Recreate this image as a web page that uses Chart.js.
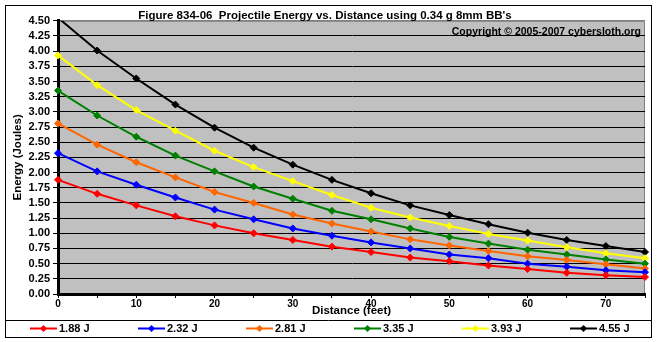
<!DOCTYPE html>
<html>
<head>
<meta charset="utf-8">
<title>Projectile Energy vs. Distance</title>
<script src="https://cdn.jsdelivr.net/npm/chart.js@4"></script>
<style>
  body { margin: 0; background: #fff; }
</style>
</head>
<body>
<canvas id="energyChart" width="658" height="342"></canvas>
<script>
// distance in feet, energy in joules
var distances = [0, 5, 10, 15, 20, 25, 30, 35, 40, 45, 50, 55, 60, 65, 70, 75];
var seriesLabels = ["1.88 J", "2.32 J", "2.81 J", "3.35 J", "3.93 J", "4.55 J"];
var seriesColors = ["#ff0000", "#0000ff", "#ff6600", "#008000", "#ffff00", "#000000"];

var energy188 = [1.88, 1.65, 1.46, 1.28, 1.13, 1.00, 0.89, 0.78, 0.69, 0.60, 0.54, 0.47, 0.41, 0.35, 0.31, 0.28];
var energy232 = [2.32, 2.02, 1.80, 1.59, 1.39, 1.23, 1.08, 0.96, 0.85, 0.75, 0.65, 0.59, 0.50, 0.45, 0.39, 0.36];
var energy281 = [2.81, 2.46, 2.17, 1.92, 1.68, 1.50, 1.31, 1.16, 1.03, 0.90, 0.80, 0.71, 0.62, 0.56, 0.49, 0.42];
var energy335 = [3.35, 2.94, 2.59, 2.28, 2.02, 1.77, 1.57, 1.37, 1.23, 1.08, 0.94, 0.83, 0.73, 0.65, 0.57, 0.50];
var energy393 = [3.93, 3.44, 3.03, 2.69, 2.36, 2.09, 1.86, 1.63, 1.42, 1.26, 1.12, 0.99, 0.88, 0.77, 0.67, 0.59];
var energy455 = [4.55, 4.01, 3.55, 3.12, 2.74, 2.41, 2.13, 1.88, 1.66, 1.46, 1.30, 1.15, 1.01, 0.89, 0.79, 0.69];

var allSeries = [energy188, energy232, energy281, energy335, energy393, energy455];

var yMin = 0;
var yMax = 4.5;
var yStep = 0.25;
var xMin = 0;
var xMax = 75;
var xStep = 5;

var FONT = "'Liberation Sans', Arial, sans-serif";

var datasets = [];
for (var i = 0; i < allSeries.length; i++) {
  var pts = [];
  for (var j = 0; j < distances.length; j++) {
    pts.push({ x: distances[j], y: allSeries[i][j] });
  }
  datasets.push({
    label: seriesLabels[i],
    data: pts,
    borderColor: seriesColors[i],
    backgroundColor: seriesColors[i],
    borderWidth: 2,
    pointStyle: "rectRot",
    pointRadius: 3.5,
    pointBorderWidth: 1,
    tension: 0,
    clip: { left: 6, top: 0, right: 6, bottom: 6 },
  });
}

// gray plot area and its border
var plotBackground = {
  id: "plotBackground",
  beforeDraw: function (chart) {
    var ctx = chart.ctx;
    var a = chart.chartArea;
    ctx.save();
    ctx.fillStyle = "#ffffff";
    ctx.fillRect(0, 0, chart.width, chart.height);
    ctx.fillStyle = "#c0c0c0";
    ctx.fillRect(a.left, a.top, a.right - a.left, a.bottom - a.top);
    ctx.strokeStyle = "#808080";
    ctx.lineWidth = 1;
    ctx.beginPath();
    ctx.moveTo(a.left, a.top + 0.5);
    ctx.lineTo(a.right - 0.5, a.top + 0.5);
    ctx.lineTo(a.right - 0.5, a.bottom);
    ctx.stroke();
    ctx.restore();
  },
};

// outer frame, copyright note and the legend row
var chartFrame = {
  id: "chartFrame",
  afterDraw: function (chart) {
    var ctx = chart.ctx;
    var a = chart.chartArea;
    ctx.save();
    ctx.strokeStyle = "#000000";
    ctx.lineWidth = 1;
    ctx.strokeRect(5.5, 5.5, 646, 332);
    ctx.beginPath();
    ctx.moveTo(5, 320.5);
    ctx.lineTo(652, 320.5);
    ctx.stroke();

    ctx.fillStyle = "#000000";
    ctx.font = "bold 10.5px " + FONT;
    ctx.textAlign = "right";
    ctx.textBaseline = "middle";
    ctx.fillText("Copyright \u00a9 2005-2007 cybersloth.org", a.right - 4, a.top + 11);

    var legendY = 328.5;
    var startX = 30;
    var spacing = 108;
    ctx.font = "bold 11px " + FONT;
    ctx.textAlign = "left";
    chart.data.datasets.forEach(function (ds, k) {
      var x0 = startX + k * spacing;
      ctx.strokeStyle = ds.borderColor;
      ctx.lineWidth = 2;
      ctx.beginPath();
      ctx.moveTo(x0, legendY);
      ctx.lineTo(x0 + 27, legendY);
      ctx.stroke();
      ctx.fillStyle = ds.backgroundColor;
      ctx.beginPath();
      ctx.moveTo(x0 + 13.5, legendY - 3.5);
      ctx.lineTo(x0 + 17, legendY);
      ctx.lineTo(x0 + 13.5, legendY + 3.5);
      ctx.lineTo(x0 + 10, legendY);
      ctx.closePath();
      ctx.fill();
      ctx.fillStyle = "#000000";
      ctx.fillText(ds.label, x0 + 29, legendY + 0.5);
    });
    ctx.restore();
  },
};

var ctx = document.getElementById("energyChart");
var energyChart = new Chart(ctx, {
  type: "line",
  data: { datasets: datasets },
  options: {
    responsive: false,
    devicePixelRatio: 1,
    animation: false,
    layout: {
      padding: { left: 5, right: 13, top: 0, bottom: 22 },
    },
    plugins: {
      legend: { display: false },
      tooltip: { enabled: false },
      title: {
        display: true,
        text: "Figure 834-06  Projectile Energy vs. Distance using 0.34 g 8mm BB's",
        color: "#000000",
        font: { family: FONT, size: 11.5, weight: "bold", lineHeight: 1.2 },
        padding: { top: 9, bottom: -2 },
      },
    },
    scales: {
      x: {
        type: "linear",
        min: xMin,
        max: xMax,
        afterFit: function (scale) {
          scale.height = 26;
        },
        border: { display: true, color: "#000000", width: 3 },
        grid: {
          drawOnChartArea: false,
          drawTicks: true,
          tickLength: 4,
          tickColor: "#000000",
          tickWidth: 1,
        },
        ticks: {
          stepSize: xStep,
          autoSkip: false,
          maxRotation: 0,
          padding: 0,
          color: "#000000",
          font: { family: FONT, size: 10, weight: "bold" },
          callback: function (v) {
            return v % 10 === 0 ? v : "";
          },
        },
        title: {
          display: true,
          text: "Distance (feet)",
          color: "#000000",
          font: { family: FONT, size: 11.5, weight: "bold", lineHeight: 1.2 },
          padding: { top: 0, bottom: 2 },
        },
      },
      y: {
        min: yMin,
        max: yMax,
        afterFit: function (scale) {
          scale.width = 53;
        },
        border: { display: true, color: "#000000", width: 3 },
        grid: {
          color: function (c) {
            return c.tick && c.tick.value === yMax ? "#808080" : "#000000";
          },
          lineWidth: 1,
          drawTicks: true,
          tickLength: 5,
          tickColor: "#000000",
        },
        ticks: {
          stepSize: yStep,
          autoSkip: false,
          padding: 3,
          color: "#000000",
          font: { family: FONT, size: 11, weight: "bold" },
          callback: function (v) {
            return v.toFixed(2);
          },
        },
        title: {
          display: true,
          text: "Energy (Joules)",
          color: "#000000",
          font: { family: FONT, size: 11.5, weight: "bold", lineHeight: 1.2 },
          padding: { top: 6, bottom: 0 },
        },
      },
    },
  },
  plugins: [plotBackground, chartFrame],
});
</script>
</body>
</html>
